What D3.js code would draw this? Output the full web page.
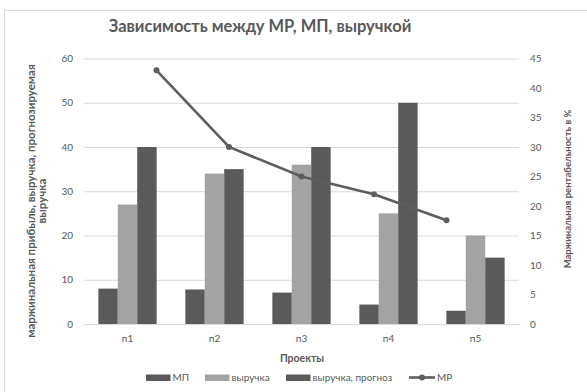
<!DOCTYPE html>
<html>
<head>
<meta charset="utf-8">
<script src="https://cdn.jsdelivr.net/npm/d3@7"></script>
<style>
  html, body { margin: 0; padding: 0; background: #ffffff; }
  svg { display: block; font-family: Lato, "Open Sans", sans-serif; }
</style>
</head>
<body>
<svg id="chart" width="587" height="392"></svg>
<script>
// Projects and their figures
const categories = ["п1", "п2", "п3", "п4", "п5"];
const profit = [8, 7.8, 7.1, 4.4, 3];            // МП
const revenue = [27, 34, 36, 25, 20];             // выручка
const revenueForecast = [40, 35, 40, 50, 15];     // выручка, прогноз
const margin = [43, 30, 25, 22, 17.6];            // МР, %
const leftTicks = [0, 10, 20, 30, 40, 50, 60];
const rightTicks = [0, 5, 10, 15, 20, 25, 30, 35, 40, 45];

const barSeries = [
  { name: "МП", values: profit, color: "#5a5a5a" },
  { name: "выручка", values: revenue, color: "#a3a3a3" },
  { name: "выручка, прогноз", values: revenueForecast, color: "#5a5a5a" }
];
const lineColor = "#5e5e5e";
const textColor = "#595959";

const svg = d3.select("#chart");

// chart frame
svg.append("rect")
  .attr("x", 4.5).attr("y", 10.5)
  .attr("width", 600).attr("height", 400)
  .attr("fill", "#fff").attr("stroke", "#d9d9d9");

const plot = { left: 84, right: 519, top: 58.5, bottom: 324 };

const x = d3.scaleBand().domain(categories)
  .range([plot.left, plot.right]).paddingInner(0.33).paddingOuter(0.165);
// line points sit on their own evenly spaced positions
const xLine = d3.scalePoint().domain(categories)
  .range([plot.left, plot.right]).padding(1);
const xSub = d3.scaleBand().domain(barSeries.map(d => d.name))
  .range([0, x.bandwidth()]);
const yLeft = d3.scaleLinear().domain([0, 60]).range([plot.bottom, plot.top]);
const yRight = d3.scaleLinear().domain([0, 45]).range([plot.bottom, plot.top]);

// gridlines + left axis labels
const leftAxis = d3.axisLeft(yLeft).tickValues(leftTicks)
  .tickSize(-(plot.right - plot.left)).tickPadding(11);
const gL = svg.append("g").attr("transform", `translate(${plot.left},0)`).call(leftAxis);
gL.select(".domain").remove();
gL.selectAll(".tick line").attr("stroke", "#d9d9d9");
gL.selectAll(".tick text").attr("fill", textColor).style("font-size", "10px")
  .style("font-family", "Lato, sans-serif");

const rightAxis = d3.axisRight(yRight).tickValues(rightTicks).tickSize(0).tickPadding(11);
const gR = svg.append("g").attr("transform", `translate(${plot.right},0)`).call(rightAxis);
gR.select(".domain").remove();
gR.selectAll(".tick text").attr("fill", textColor).style("font-size", "10px")
  .style("font-family", "Lato, sans-serif");

// bars
barSeries.forEach(s => {
  svg.append("g").selectAll("rect")
    .data(categories.map((c, i) => ({ c, v: s.values[i] })))
    .join("rect")
    .attr("x", d => x(d.c) + xSub(s.name))
    .attr("y", d => yLeft(d.v))
    .attr("width", xSub.bandwidth())
    .attr("height", d => yLeft(0) - yLeft(d.v))
    .attr("fill", s.color);
});

// category axis
const bottomAxis = d3.axisBottom(x).tickSize(0).tickPadding(11);
const gB = svg.append("g").attr("transform", `translate(0,${plot.bottom})`).call(bottomAxis);
gB.select(".domain").attr("stroke", "#d9d9d9");
gB.selectAll(".tick text").attr("fill", textColor).style("font-size", "10px")
  .style("font-family", "Lato, sans-serif");

// МР line
const line = d3.line().x((d, i) => xLine(categories[i])).y(d => yRight(d));
svg.append("path").datum(margin)
  .attr("d", line).attr("fill", "none")
  .attr("stroke", lineColor).attr("stroke-width", 2.6);
svg.append("g").selectAll("circle").data(margin).join("circle")
  .attr("cx", (d, i) => xLine(categories[i])).attr("cy", d => yRight(d))
  .attr("r", 3).attr("fill", lineColor);

// titles
svg.append("text").attr("x", 260).attr("y", 32).attr("text-anchor", "middle")
  .attr("fill", textColor).style("font-size", "16.5px").style("font-weight", "bold")
  .text("Зависимость между МР, МП, выручкой");

svg.append("text").attr("x", 302).attr("y", 362).attr("text-anchor", "middle")
  .attr("fill", textColor).style("font-size", "10.5px").style("font-weight", "bold")
  .text("Проекты");

const yTitle = svg.append("text")
  .attr("transform", "translate(35,201) rotate(-90)")
  .attr("text-anchor", "middle").attr("fill", textColor)
  .style("font-size", "11.5px").style("font-weight", "bold");
yTitle.append("tspan").attr("x", 0).attr("dy", 0)
  .text("маржинальная прибыль, выручка, прогнозируемая");
yTitle.append("tspan").attr("x", 0).attr("dy", 11)
  .text("выручка");

svg.append("text")
  .attr("transform", "translate(571,189) rotate(-90)")
  .attr("text-anchor", "middle").attr("fill", textColor)
  .style("font-size", "9.5px").style("font-weight", "bold")
  .text("Маржинальная рентабельность в %");

// legend
const legend = svg.append("g").style("font-size", "10px");
const legendItems = [
  { type: "bar", name: "МП", color: barSeries[0].color, x: 146 },
  { type: "bar", name: "выручка", color: barSeries[1].color, x: 205 },
  { type: "bar", name: "выручка, прогноз", color: barSeries[2].color, x: 286 },
  { type: "line", name: "МР", color: lineColor, x: 409 }
];
legendItems.forEach(it => {
  const g = legend.append("g").attr("transform", `translate(${it.x},377.5)`);
  if (it.type === "bar") {
    g.append("rect").attr("x", 0).attr("y", -3).attr("width", 24.5).attr("height", 6.5)
      .attr("fill", it.color);
  } else {
    g.append("line").attr("x1", 0).attr("x2", 26).attr("y1", 0).attr("y2", 0)
      .attr("stroke", it.color).attr("stroke-width", 2.6);
    g.append("circle").attr("cx", 13).attr("cy", 0).attr("r", 3).attr("fill", it.color);
  }
  g.append("text").attr("x", it.type === "bar" ? 26.5 : 28).attr("y", 3.5)
    .attr("fill", textColor).text(it.name);
});
</script>
</body>
</html>
